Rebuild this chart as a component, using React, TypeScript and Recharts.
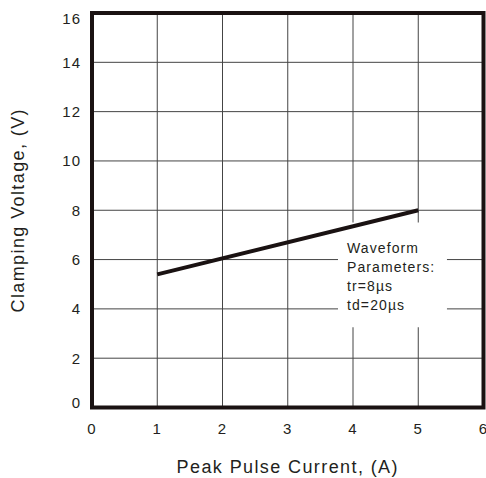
import React from 'react';
import { LineChart, Line, XAxis, YAxis, CartesianGrid, ReferenceArea } from 'recharts';

const currentTicks = [0, 1, 2, 3, 4, 5, 6];
const voltageTicks = [0, 2, 4, 6, 8, 10, 12, 14, 16];
const peakCurrent = [1, 5];
const clampVoltage = [5.4, 8.0];
const noteLines = ['Waveform', 'Parameters:', 'tr=8µs', 'td=20µs'];

const data = peakCurrent.map((x, i) => ({ x, v: clampVoltage[i] }));

const FONT = '"Liberation Sans", Arial, sans-serif';

const YTick = (props: any) => {
  const { x, y, payload } = props;
  let dy = 0;
  if (payload.value === 16) dy = 6;
  if (payload.value === 0) dy = -5;
  return (
    <text x={x} y={y + dy} dy="0.355em" textAnchor="end" fontSize={15} letterSpacing={1}
      fill="#231f20" fontFamily={FONT}>
      {payload.value}
    </text>
  );
};

const Note = (props: any) => {
  const { x, y } = props.viewBox;
  return (
    <g>
      {noteLines.map((t, i) => (
        <text key={t} x={x + 9} y={y + 30 + i * 19.3} fontSize={14} letterSpacing={1.1}
          fill="#231f20" fontFamily={FONT}>
          {t}
        </text>
      ))}
    </g>
  );
};

export default function App() {
  return (
    <div style={{ position: 'absolute', left: 0, top: 0 }}>
      <LineChart width={486} height={478} data={data}
        margin={{ top: 13, right: 2.5, left: 0, bottom: 0 }}>
        <CartesianGrid stroke="#444" strokeWidth={1} />
        <XAxis dataKey="x" type="number" domain={[0, 6]} ticks={currentTicks}
          axisLine={false} tickLine={false} tickSize={0} tickMargin={16} height={70.5}
          interval={0}
          tick={{ fontSize: 15, fill: '#231f20', fontFamily: FONT, letterSpacing: 1 }}
          label={{
            value: 'Peak Pulse Current, (A)', position: 'insideBottom', offset: 5,
            style: { fontSize: 18, fill: '#231f20', fontFamily: FONT, letterSpacing: 1.4 }
          }} />
        <YAxis type="number" domain={[0, 16]} ticks={voltageTicks} width={92}
          axisLine={false} tickLine={false} tickSize={0} tickMargin={11} interval={0}
          tick={<YTick />}
          label={{
            value: 'Clamping Voltage, (V)', angle: -90, position: 'insideLeft', offset: 18,
            style: { fontSize: 18, fill: '#231f20', fontFamily: FONT, letterSpacing: 1.4, textAnchor: 'middle' }
          }} />
        <ReferenceArea x1={3.77} x2={5.44} y1={3.25} y2={7.5} fill="#fff" fillOpacity={1}
          stroke="none" label={<Note />} />
        <ReferenceArea x1={0} x2={6} y1={0} y2={16} fill="none" stroke="#1a1212"
          strokeWidth={4} />
        <Line type="linear" dataKey="v" stroke="#1a1212" strokeWidth={4} dot={false}
          isAnimationActive={false} />
      </LineChart>
    </div>
  );
}
